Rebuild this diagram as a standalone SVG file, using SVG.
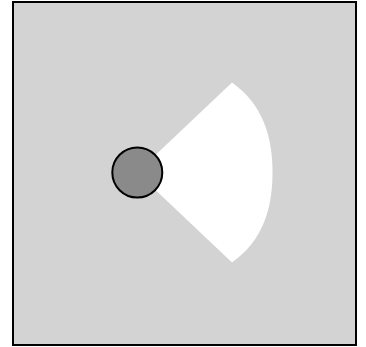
<svg xmlns="http://www.w3.org/2000/svg" width="366" height="347" viewBox="0 0 366 347">
  <style>
    .frame { fill: #d3d3d3; stroke: #000; stroke-width: 2; }
    .cone { fill: #ffffff; stroke: none; }
    .agent { fill: #8a8a8a; stroke: #000; stroke-width: 2; }
  </style>
  <g id="background">
    <rect class="frame" x="13" y="2" width="343" height="343"/>
  </g>
  <g id="view-cone">
    <path class="cone" d="M137 172.5 L232 82.5 C262 104 272.5 135 272.5 172.5 C272.5 210 262 241 232 262.5 Z"/>
  </g>
  <g id="agent">
    <circle class="agent" cx="137.3" cy="172.5" r="25"/>
  </g>
  <g id="connectors"></g>
</svg>
